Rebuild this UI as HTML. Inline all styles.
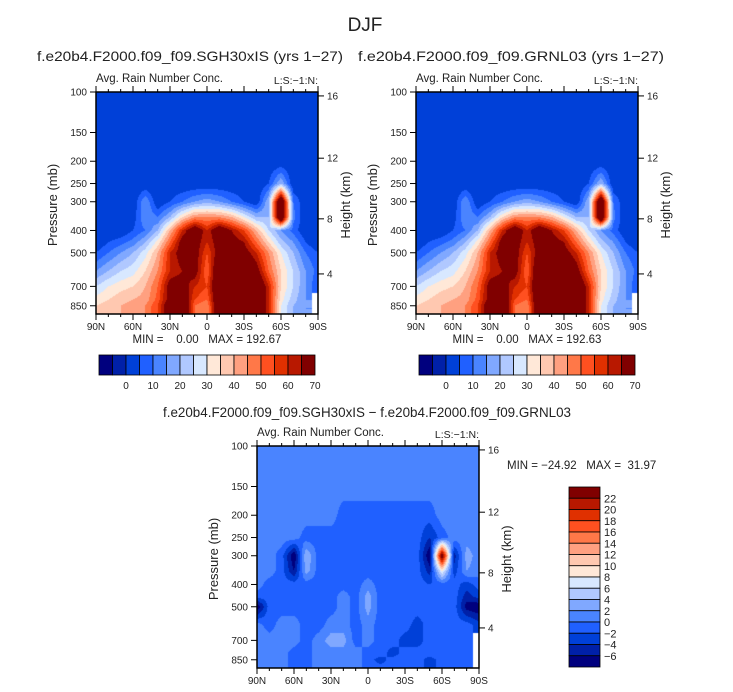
<!DOCTYPE html>
<html><head><meta charset="utf-8">
<style>
body{margin:0;background:#fff;}
#wrap{position:relative;width:733px;height:692px;overflow:hidden;background:#fff;}
canvas{position:absolute;}
svg{position:absolute;left:0;top:0;}
text{font-family:"Liberation Sans",sans-serif;fill:#222;white-space:pre;}
</style></head>
<body>
<div id="wrap">
<canvas id="c1"></canvas>
<canvas id="c2"></canvas>
<canvas id="c3"></canvas>
<svg id="svg" width="733" height="692">
<text x="365" y="31" font-size="19" text-anchor="middle" fill="#444">DJF</text>
<text x="190" y="61" font-size="14" text-anchor="middle" textLength="306" lengthAdjust="spacingAndGlyphs">f.e20b4.F2000.f09_f09.SGH30xIS (yrs 1−27)</text>
<text x="511" y="61" font-size="14" text-anchor="middle" textLength="306" lengthAdjust="spacingAndGlyphs">f.e20b4.F2000.f09_f09.GRNL03 (yrs 1−27)</text>
<text x="367" y="417" font-size="14" text-anchor="middle" textLength="408" lengthAdjust="spacingAndGlyphs">f.e20b4.F2000.f09_f09.SGH30xIS − f.e20b4.F2000.f09_f09.GRNL03</text>
</svg>
</div>
<script>
// ---- data ----
const lats = [90,80,70,60,50,40,30,20,10,0,-10,-20,-30,-40,-50,-60,-70,-80,-90];
const pressures = [100,150,200,250,300,350,400,450,500,600,700,800,850,925];
const N = NaN;
const rainSGH = [
 [0,0,0,0,0,0,0,0,0,0,0,0,0,0,0,0,0,0,0],
 [0,0,0,0,0,0,0,0,0,0,0,0,0,0,0,0,0,0,0],
 [0,0,0,0,0,0,0,0,0,0,0,0,0,0,0,0,0,0,0],
 [0,0,0,0,0,0,0,0,0,0,0,0,0,0,5,20,0,0,0],
 [0,0,0,0,15,0,5,10,15,18,15,10,5,0,20,85,10,0,0],
 [0,0,0,2,15,10,20,35,45,45,45,40,30,20,20,85,12,0,0],
 [0,0,0,5,10,20,40,60,75,60,75,65,55,40,25,15,8,0,0],
 [0,5,8,12,20,32,50,70,70,60,70,70,65,50,35,22,15,5,0],
 [5,10,15,20,28,40,60,70,70,55,70,75,70,60,45,30,20,10,5],
 [15,20,25,28,35,45,60,65,70,50,80,80,80,70,50,35,25,15,8],
 [25,30,33,35,40,50,70,70,60,55,80,80,80,80,60,35,25,15,5],
 [32,35,38,40,42,52,70,75,55,50,80,80,80,80,60,32,22,15,N],
 [35,38,40,42,45,55,75,80,50,45,80,80,80,80,60,30,20,15,N],
 [35,38,40,42,45,55,75,80,50,45,80,80,80,80,60,30,20,15,N]
];
const rainGRN = rainSGH.map(r => r.slice());
const rainDiff = [
 [1,1,1,1,1,1,1,1,1,1,1,1,1,1,1,1,1,1,1],
 [1,1,1,1,1,1,1,1,1,1,1,1,1,1,1,1,1,1,1],
 [1,1,1,1,1,1,1,-1,-1,-1,-1,-1,-1,-1,-1,1,1,1,1],
 [1,1,1,1,-1,-1,-1,-1,-1,-1,-1,-1,-1,-1,-4,-1,1,1,1],
 [1,1,-1,-8,4,-1,-1,-1,-1,-1,-1,-1,-1,-1,-8,26,-5,3,1],
 [1,1,-1,-6,3,-1,-1,-1,-1,-1,-1,-1,-1,-1,-5,8,-3,2,1],
 [1,-1,-1,-1,-1,-1,-1,-1,-1,1,-1,-1,-1,-1,-2,-1,-1,-3,-1],
 [-1,-1,-1,-1,-1,-1,-1,1,-1,3,-1,-1,-1,-1,-1,-1,-1,-5,-3],
 [-8,-1,-1,-1,-1,-1,-1,1,-1,3,-1,-1,-1,-1,-1,-1,-1,-7,-8],
 [1,-1,1,1,-1,-1,1,1,-1,1,-1,-1,-1,-3,-1,-1,-1,-1,-3],
 [1,1,1,1,-1,1,3,3,-1,1,-1,-1,-3,-3,-1,-1,-1,-1,N],
 [1,1,1,-1,-1,1,1,1,1,-1,-1,-3,-1,-1,-1,-1,-1,-1,N],
 [1,1,1,-1,-1,1,1,1,1,-1,-3,-1,-1,-1,-3,-1,-1,-1,N],
 [1,1,1,-1,-1,1,1,1,1,-1,-1,-1,-1,-1,-3,-1,-1,-1,N]
];
const rainLevels = [-5,0,5,10,15,20,25,30,35,40,45,50,55,60,65];
const rainTickLabels = ["0","10","20","30","40","50","60","70"];
const diffLevels = [-6,-4,-2,0,2,4,6,8,10,12,14,16,18,20,22];
const diffTickLabels = ["22","20","18","16","14","12","10","8","6","4","2","0","−2","−4","−6"];
const xTickLats = [90,60,30,0,-30,-60,-90];
const xTickLabels = ["90N","60N","30N","0","30S","60S","90S"];
const pTicks = [100,150,200,250,300,400,500,700,850];
const hTicks = [16,12,8,4];
const hTickPress = [104,194,356,618];
const colors = ["#00007e","#0020a8","#0040d8","#2060ff","#4a84ff","#80a8ff","#b0c8ff","#d8e8ff",
 "#ffe8d8","#ffc8b0","#ffa080","#ff7848","#ff5020","#e03000","#b81800","#800000"];
const P_BOTTOM = 923;

const svg = document.getElementById('svg');
const NS = 'http://www.w3.org/2000/svg';
function mk(tag, attrs, txt){const e=document.createElementNS(NS,tag);for(const k in attrs)e.setAttribute(k,attrs[k]);if(txt!==undefined)e.textContent=txt;svg.appendChild(e);return e;}

function hexRGB(h){return [parseInt(h.substr(1,2),16),parseInt(h.substr(3,2),16),parseInt(h.substr(5,2),16)];}
const rgb = colors.map(hexRGB);

function levelIndex(v, levels){let i=0;for(const b of levels){if(v>=b)i++;}return i;}

function panel(canvasId, P, data, levels, prefix){
  const xS = lat => P.x + (90-lat)/180*P.w;
  const yS = p => P.y + Math.log10(p/100)/Math.log10(P_BOTTOM/100)*P.h;
  const cv = document.getElementById(canvasId);
  cv.width=P.w; cv.height=P.h; cv.style.left=P.x+'px'; cv.style.top=P.y+'px';
  const ctx=cv.getContext('2d'); const img=ctx.createImageData(P.w,P.h);
  const logP = pressures.map(p=>Math.log10(p));
  for(let j=0;j<P.h;j++){
    const lp = 2 + (j+0.5)/P.h*Math.log10(P_BOTTOM/100);
    let r=0; while(r<logP.length-2 && lp>logP[r+1]) r++;
    let fy=(lp-logP[r])/(logP[r+1]-logP[r]); fy=Math.max(0,Math.min(1,fy));
    for(let i=0;i<P.w;i++){
      const lat = 90 - (i+0.5)/P.w*180;
      const fc = (90-lat)/10; let c=Math.min(Math.floor(fc),lats.length-2); const fx=fc-c;
      const a=data[r][c], b=data[r][c+1], d=data[r+1][c], e=data[r+1][c+1];
      const near = data[fy<0.5?r:r+1][fx<0.5?c:c+1];
      const k=(j*P.w+i)*4;
      if(isNaN(near)){img.data[k]=255;img.data[k+1]=255;img.data[k+2]=255;img.data[k+3]=255;continue;}
      const g=x=>isNaN(x)?near:x;
      const v=(g(a)*(1-fx)+g(b)*fx)*(1-fy)+(g(d)*(1-fx)+g(e)*fx)*fy;
      const col=rgb[levelIndex(v,levels)];
      img.data[k]=col[0];img.data[k+1]=col[1];img.data[k+2]=col[2];img.data[k+3]=255;
    }
  }
  ctx.putImageData(img,0,0);
  let el = mk('rect',{x:P.x,y:P.y,width:P.w,height:P.h,fill:'none',stroke:'#000','stroke-width':1.5});
  
  
  for(let lat=90;lat>=-90;lat-=10){
    const x=xS(lat); const major = xTickLats.indexOf(lat)>=0; const len=major?6:3;
    el=mk('line',{x1:x,y1:P.y+P.h,x2:x,y2:P.y+P.h+len,stroke:'#000','stroke-width':1});
    
    
    el=mk('line',{x1:x,y1:P.y,x2:x,y2:P.y-len,stroke:'#000','stroke-width':1});
    
    
  }
  xTickLats.forEach((lat,i)=>{
    el=mk('text',{x:xS(lat),y:P.y+P.h+16,'font-size':10,'text-anchor':'middle'},xTickLabels[i]);
    
    
  });
  pTicks.forEach(p=>{
    const y=yS(p);
    el=mk('line',{x1:P.x-6,y1:y,x2:P.x,y2:y,stroke:'#000','stroke-width':1});
    
    
    el=mk('text',{x:P.x-9,y:y+3.5,'font-size':10,'text-anchor':'end'},String(p));
    
    
  });
  hTicks.forEach((h,i)=>{
    const y=yS(hTickPress[i]);
    el=mk('line',{x1:P.x+P.w,y1:y,x2:P.x+P.w+6,y2:y,stroke:'#000','stroke-width':1});
    
    
    el=mk('text',{x:P.x+P.w+9,y:y+3.5,'font-size':10},String(h));
    
    
  });
  const cy=P.y+P.h/2+2;
  el=mk('text',{x:0,y:0,'font-size':13,'text-anchor':'middle',transform:`translate(${P.x-39},${cy}) rotate(-90)`},'Pressure (mb)');
  
  
  el=mk('text',{x:0,y:0,'font-size':13,'text-anchor':'middle',transform:`translate(${P.x+P.w+32},${cy}) rotate(-90)`},'Height (km)');
  
  
  el=mk('text',{x:P.x,y:P.y-10,'font-size':11.5},'Avg. Rain Number Conc.');
  
  
  el=mk('text',{x:P.x+P.w,y:P.y-8,'font-size':10.5,'text-anchor':'end'},'L:S:−1:N:');
  
  
}

function hBar(x,y,w,h,prefix){
  const bw=w/colors.length;
  colors.forEach((c,i)=>{
    const el=mk('rect',{x:x+i*bw,y:y,width:bw,height:h,fill:c,stroke:'#000','stroke-width':0.8});
    
    
  });
  rainTickLabels.forEach((t,i)=>{
    const el=mk('text',{x:x+(2+2*i)*bw,y:y+h+14,'font-size':10,'text-anchor':'middle'},t);
    
    
  });
}

const PL={x:96,y:92,w:222,h:222}, PR={x:416,y:92,w:222,h:222}, PB={x:257,y:446,w:222,h:222};
panel('c1',PL,rainSGH,rainLevels,'sgh');
panel('c2',PR,rainGRN,rainLevels,'grnl');
panel('c3',PB,rainDiff,diffLevels,'diff');
hBar(99,355,216,20,'sgh');
hBar(419,355,216,20,'grnl');

let e;
e=mk('text',{x:207,y:343,'font-size':11.5,'text-anchor':'middle'},'MIN =    0.00   MAX = 192.67');


e=mk('text',{x:527,y:343,'font-size':11.5,'text-anchor':'middle'},'MIN =    0.00   MAX = 192.63');


e=mk('text',{x:507,y:469,'font-size':11.5},'MIN = −24.92   MAX =  31.97');



(function(){
  const x=569,y=487,w=31,h=180,bh=h/colors.length;
  colors.slice().reverse().forEach((c,i)=>{
    const el=mk('rect',{x:x,y:y+i*bh,width:w,height:bh,fill:c,stroke:'#000','stroke-width':0.8});
    
    
  });
  diffTickLabels.forEach((t,i)=>{
    const el=mk('text',{x:x+w+4,y:y+(i+1)*bh+4,'font-size':11},t);
    
    
  });
})();
</script>
</body></html>
